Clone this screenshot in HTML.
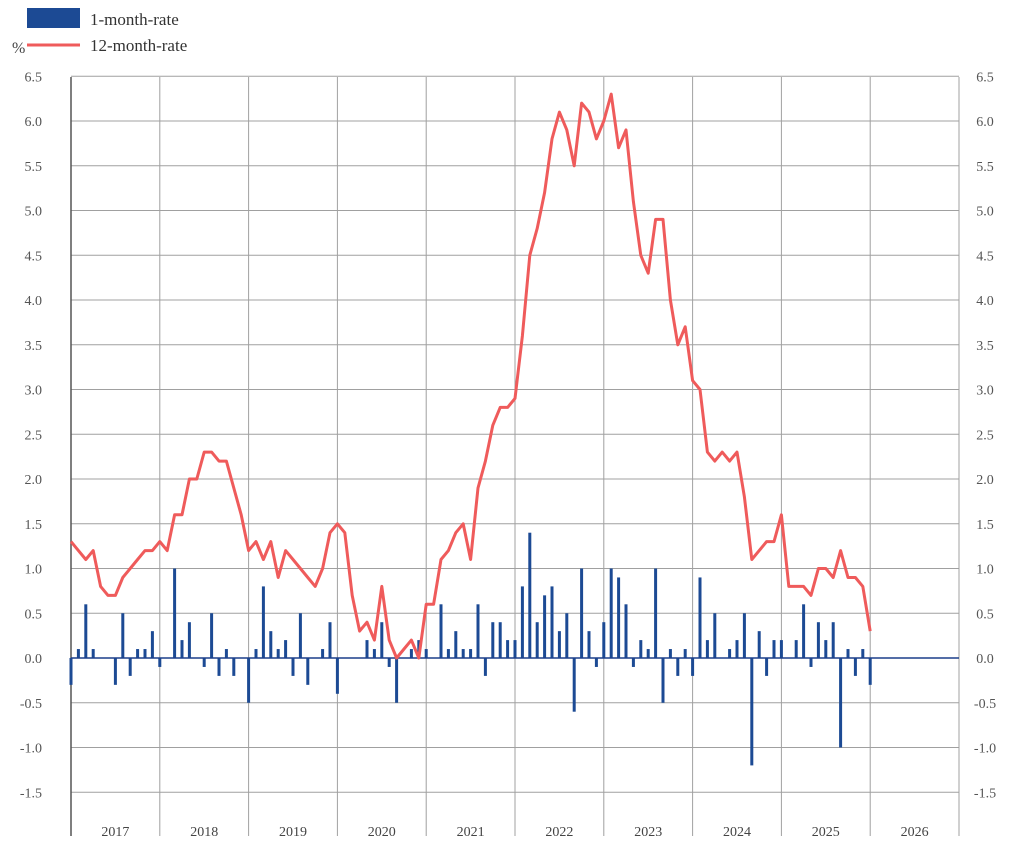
<!DOCTYPE html>
<html><head><meta charset="utf-8"><style>
body{margin:0;background:#fff;}
svg{display:block;font-family:"Liberation Serif",serif;}
</style></head><body>
<svg id="c" width="1024" height="853" xmlns="http://www.w3.org/2000/svg"></svg>
<script>
const s=document.getElementById('c');
let h='';
const X0=71,X1=959,Y0=658,U=89.5;
const y=v=>Y0-v*U;
const mx=i=>X0+i*7.4;
// legend
h+='<rect x="27" y="8" width="53" height="20" fill="#1c4a94"/>';
h+='<text x="90" y="25" font-size="17" fill="#333">1-month-rate</text>';
h+='<line x1="27" y1="45" x2="80" y2="45" stroke="#ef5b5b" stroke-width="3"/>';
h+='<text x="90" y="51" font-size="17" fill="#333">12-month-rate</text>';
h+='<text x="12" y="53" font-size="16" fill="#444">%</text>';
// horizontal grid
for(let k=-3;k<=13;k++){const v=k/2,yy=y(v);
 if(k!==0)h+=`<line x1="${X0}" y1="${yy}" x2="${X1}" y2="${yy}" stroke="#a0a0a0" stroke-width="1"/>`;
 const t=v.toFixed(1);
 h+=`<text x="42" y="${yy+5}" font-size="14" fill="#555" text-anchor="end">${t}</text>`;
 h+=`<text x="985" y="${yy+5}" font-size="14" fill="#555" text-anchor="middle">${t}</text>`;}
// vertical grid
for(let j=0;j<=10;j++){const xx=X0+j*88.8;
 h+=`<line x1="${xx}" y1="77" x2="${xx}" y2="836" stroke="${j==0?'#555':'#a0a0a0'}" stroke-width="${j==0?1.5:1}"/>`;
 if(j<10)h+=`<text x="${xx+44.4}" y="836" font-size="14" fill="#444" text-anchor="middle">${2017+j}</text>`;}
// bars
const b={0:-.3,1:.1,2:.6,3:.1,6:-.3,7:.5,8:-.2,9:.1,10:.1,11:.3,12:-.1,14:1,15:.2,16:.4,18:-.1,19:.5,20:-.2,21:.1,22:-.2,24:-.5,25:.1,26:.8,27:.3,28:.1,29:.2,30:-.2,31:.5,32:-.3,34:.1,35:.4,36:-.4,40:.2,41:.1,42:.4,43:-.1,44:-.5,46:.1,47:.2,48:.1,50:.6,51:.1,52:.3,53:.1,54:.1,55:.6,56:-.2,57:.4,58:.4,59:.2,60:.2,61:.8,62:1.4,63:.4,64:.7,65:.8,66:.3,67:.5,68:-.6,69:1,70:.3,71:-.1,72:.4,73:1,74:.9,75:.6,76:-.1,77:.2,78:.1,79:1,80:-.5,81:.1,82:-.2,83:.1,84:-.2,85:.9,86:.2,87:.5,89:.1,90:.2,91:.5,92:-1.2,93:.3,94:-.2,95:.2,96:.2,98:.2,99:.6,100:-.1,101:.4,102:.2,103:.4,104:-1,105:.1,106:-.2,107:.1,108:-.3};
for(const k in b){const v=b[k],xx=mx(+k)-1.5;
 h+=`<rect x="${xx}" y="${Math.min(Y0,y(v))}" width="3" height="${Math.abs(v*U)}" fill="#1c4a94"/>`;}
h+=`<line x1="${X0}" y1="${Y0}" x2="${X1}" y2="${Y0}" stroke="#1c3f8a" stroke-width="1.5"/>`;
// line
const L=[1.3,1.2,1.1,1.2,.8,.7,.7,.9,1,1.1,1.2,1.2,1.3,1.2,1.6,1.6,2,2,2.3,2.3,2.2,2.2,1.9,1.6,1.2,1.3,1.1,1.3,.9,1.2,1.1,1,.9,.8,1,1.4,1.5,1.4,.7,.3,.4,.2,.8,.2,0,.1,.2,0,.6,.6,1.1,1.2,1.4,1.5,1.1,1.9,2.2,2.6,2.8,2.8,2.9,3.6,4.5,4.8,5.2,5.8,6.1,5.9,5.5,6.2,6.1,5.8,6,6.3,5.7,5.9,5.1,4.5,4.3,4.9,4.9,4,3.5,3.7,3.1,3,2.3,2.2,2.3,2.2,2.3,1.8,1.1,1.2,1.3,1.3,1.6,.8,.8,.8,.7,1,1,.9,1.2,.9,.9,.8,.3];
h+=`<polyline fill="none" stroke="#ef5b5b" stroke-width="3" stroke-linejoin="round" points="${L.map((v,i)=>mx(i).toFixed(1)+','+y(v).toFixed(1)).join(' ')}"/>`;
s.innerHTML=h;
</script>
</body></html>
